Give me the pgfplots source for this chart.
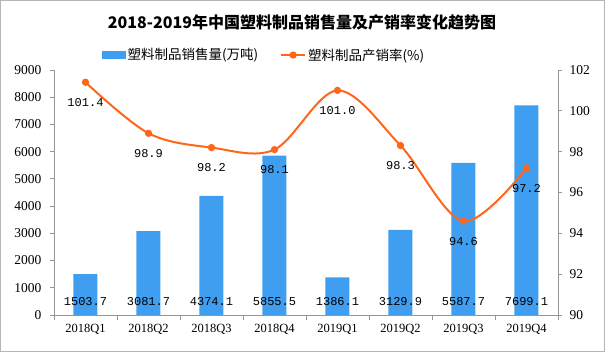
\documentclass[border=0pt]{standalone}
\usepackage{pgfplots}
\pgfplotsset{compat=1.18}
\usepackage{fontspec}
\setmainfont{Liberation Serif}
\newfontfamily\cjk{Noto Sans CJK SC}
\newfontfamily\mono{Liberation Mono}
\definecolor{barblue}{RGB}{64,158,240}
\definecolor{lineorange}{RGB}{255,102,26}
\definecolor{axgray}{RGB}{150,150,150}
\begin{document}
\begin{tikzpicture}
\path[use as bounding box] (-54pt,-37pt) rectangle (551pt,315pt);
\draw[axgray!70, line width=0.8pt] (-53.5pt,-36.5pt) rectangle (550.5pt,314.5pt);
\begin{axis}[
  at={(0pt,0pt)}, anchor=south west,
  scale only axis, width=504pt, height=245pt,
  xmin=-0.5, xmax=7.5, ymin=0, ymax=9000,
  axis y line*=left, axis x line*=bottom,
  axis line style={axgray, line width=0.8pt},
  tick align=outside,
  xtick={0,...,7},
  xticklabels={2018Q1,2018Q2,2018Q3,2018Q4,2019Q1,2019Q2,2019Q3,2019Q4},
  major x tick style={draw=none},
  minor xtick={-0.5,0.5,...,7.5},
  minor x tick style={draw=axgray, line width=0.8pt},
  minor tick length=5pt,
  major tick length=4pt,
  ytick={0,1000,...,9000},
  ytick style={draw=axgray, line width=0.8pt},
  scaled y ticks=false,
  /pgf/number format/assume math mode=true,
  yticklabel style={/pgf/number format/fixed, /pgf/number format/1000 sep={}, font=\fontsize{13.5}{14}\selectfont, xshift=-5pt},
  xticklabel style={font=\fontsize{12.5}{14}\selectfont, yshift=-2pt},
  clip=false,
]
\addplot[ybar, bar width=24pt, fill=barblue, draw=none] coordinates {
 (0,1503.7) (1,3081.7) (2,4374.1) (3,5855.5) (4,1386.1) (5,3129.9) (6,5587.7) (7,7699.1)};
\addplot[draw=none, mark=none, nodes near coords, point meta=explicit symbolic,
  every node near coord/.style={anchor=center, font=\mono\fontsize{12}{12}\selectfont}] coordinates {
 (0,500)[1503.7] (1,500)[3081.7] (2,500)[4374.1] (3,500)[5855.5] (4,500)[1386.1] (5,500)[3129.9] (6,500)[5587.7] (7,500)[7699.1]};
\end{axis}
\begin{axis}[
  at={(0pt,0pt)}, anchor=south west,
  scale only axis, width=504pt, height=245pt,
  xmin=-0.5, xmax=7.5, ymin=90, ymax=102,
  axis y line*=right, axis x line=none,
  axis line style={axgray, line width=0.8pt},
  tick align=outside, major tick length=4pt,
  ytick={90,92,...,102},
  ytick style={draw=axgray, line width=0.8pt},
  /pgf/number format/assume math mode=true,
  yticklabel style={font=\fontsize{13.5}{14}\selectfont, xshift=4pt},
  clip=false,
  legend columns=2,
  legend style={draw=none, fill=none, at={(0.417,1.061)}, anchor=center,
    font=\cjk\fontsize{13.5}{15}\selectfont,
    /tikz/every even column/.append style={column sep=20pt}},
]
\addlegendimage{legend image code/.code={\fill[barblue] (0pt,-3.5pt) rectangle (23pt,3.5pt);}}
\addlegendentry{塑料制品销售量(万吨)}
\addplot[lineorange, line width=2pt, smooth, tension=0.55, mark=*, mark size=2.6pt,
  mark options={fill=lineorange, draw=lineorange},
  legend image code/.code={\draw[lineorange, line width=2pt] (0pt,0pt)--(24pt,0pt); \fill[lineorange] (12pt,0pt) circle (2.6pt);},
  nodes near coords, point meta=explicit symbolic,
  every node near coord/.style={anchor=north, yshift=-12pt, text=black, font=\mono\fontsize{12}{12}\selectfont}] coordinates {
 (0,101.4)[101.4] (1,98.9)[98.9] (2,98.2)[98.2] (3,98.1)[98.1] (4,101.0)[101.0] (5,98.3)[98.3] (6,94.6)[94.6] (7,97.2)[97.2]};
\addlegendentry{塑料制品产销率(\%)}
\end{axis}
\node[font=\cjk\bfseries\fontsize{16}{18}\selectfont] at (248pt,293pt) {2018-2019年中国塑料制品销售量及产销率变化趋势图};
\end{tikzpicture}
\end{document}
